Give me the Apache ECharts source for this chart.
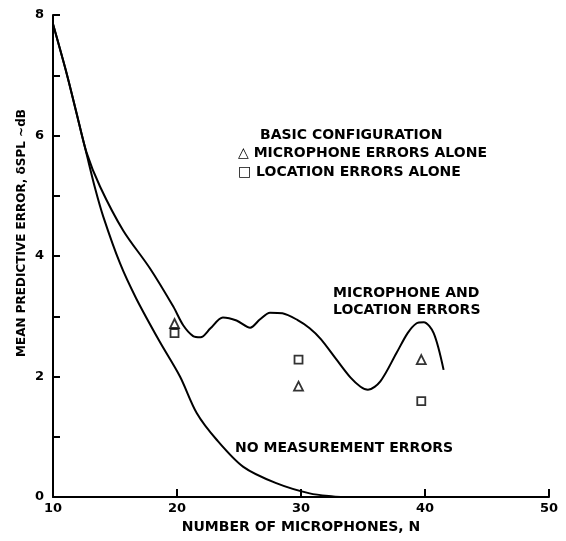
<!DOCTYPE html>
<html>
<head>
<meta charset="utf-8">
<script src="https://cdn.jsdelivr.net/npm/echarts@6/dist/echarts.min.js"></script>
<style>html,body{margin:0;padding:0;background:#fff;}#c{width:566px;height:541px;}</style>
</head>
<body>
<div id="c"></div>
<script>
// Data
var xTicks = [10, 20, 30, 40, 50];
var yTickLabels = ['0', '2', '4', '6', '8'];
var combinedErrors = [
  [10, 7.85], [11.1, 7.03], [11.9, 6.37], [12.7, 5.72], [13.8, 5.15], [15.67, 4.42],
  [17.8, 3.80], [19.7, 3.16], [20.5, 2.85], [21.3, 2.67], [21.9, 2.65], [22.7, 2.80],
  [23.7, 2.98], [24.8, 2.93], [25.9, 2.81], [26.7, 2.95], [27.5, 3.06], [28.5, 3.05],
  [29.7, 2.94], [30.7, 2.80], [31.6, 2.62], [32.9, 2.27], [34.0, 1.98], [34.8, 1.83],
  [35.4, 1.78], [36.4, 1.92], [37.7, 2.39], [38.6, 2.72], [39.3, 2.88], [39.9, 2.90],
  [40.7, 2.72], [41.5, 2.11]
];
var noErrors = [
  [10, 7.85], [11.1, 7.03], [11.9, 6.37], [12.7, 5.70], [13.4, 5.12], [14.06, 4.65],
  [15.4, 3.88], [16.7, 3.30], [18.6, 2.58], [20.24, 2.00], [21.6, 1.39], [23.2, 0.95],
  [25.35, 0.50], [28.0, 0.23], [30.7, 0.06], [32.6, 0.01], [33.5, 0.0]
];
var micErrorsAlone = [[19.8, 2.88], [29.8, 1.84], [39.7, 2.28]];
var locErrorsAlone = [[19.8, 2.72], [29.8, 2.28], [39.7, 1.59]];

var FONT = 'DejaVu Sans';
var chart = echarts.init(document.getElementById('c'));
function txt(x, y, s) {
  return { type: 'text', left: x, top: y - 7, style: { text: s, font: 'bold 14px "' + FONT + '"', fill: '#000' } };
}
chart.setOption({
  animation: false,
  backgroundColor: '#fff',
  grid: { left: 53, right: 17, top: 15, bottom: 44 },
  xAxis: {
    type: 'value', min: 10, max: 50, interval: 10,
    name: 'NUMBER OF MICROPHONES, N', nameLocation: 'middle', nameGap: 15,
    nameTextStyle: { fontFamily: FONT, fontSize: 14, fontWeight: 'bold', color: '#000' },
    axisLine: { lineStyle: { color: '#000', width: 2 } },
    axisTick: { inside: true, length: 8, lineStyle: { color: '#000', width: 2 } },
    axisLabel: { fontFamily: FONT, fontSize: 13, fontWeight: 'bold', color: '#000', margin: 5,
      formatter: function (v) { return xTicks.indexOf(v) >= 0 ? String(v) : ''; } },
    splitLine: { show: false }
  },
  yAxis: {
    type: 'value', min: 0, max: 8, interval: 1,
    axisLine: { lineStyle: { color: '#000', width: 2 } },
    axisTick: { inside: true, length: 7, lineStyle: { color: '#000', width: 2 } },
    axisLabel: { fontFamily: FONT, fontSize: 13, fontWeight: 'bold', color: '#000', margin: 9,
      formatter: function (v) { return yTickLabels.indexOf(String(v)) >= 0 ? String(v) : ''; } },
    splitLine: { show: false }
  },
  series: [
    { type: 'line', data: combinedErrors, smooth: 0.3, showSymbol: false, symbol: 'none',
      lineStyle: { color: '#000', width: 2 } },
    { type: 'line', data: noErrors, smooth: 0.3, showSymbol: false, symbol: 'none',
      lineStyle: { color: '#000', width: 2 } },
    { type: 'scatter', data: micErrorsAlone, symbol: 'triangle', symbolSize: 9,
      itemStyle: { color: '#fff', borderColor: '#000', borderWidth: 1.8 } },
    { type: 'scatter', data: locErrorsAlone, symbol: 'rect', symbolSize: 8,
      itemStyle: { color: '#fff', borderColor: '#000', borderWidth: 1.8 } }
  ],
  graphic: [
    { type: 'text', x: 22, y: 233, rotation: Math.PI / 2,
      style: { text: 'MEAN PREDICTIVE ERROR, δSPL ~dB', font: 'bold 12px "' + FONT + '"', fill: '#000',
        textAlign: 'center', textVerticalAlign: 'middle' } },
    txt(260, 135, 'BASIC CONFIGURATION'),
    txt(238, 153, '△ MICROPHONE ERRORS ALONE'),
    txt(238, 172, '□ LOCATION ERRORS ALONE'),
    txt(333, 293, 'MICROPHONE AND'),
    txt(333, 310, 'LOCATION ERRORS'),
    txt(235, 448, 'NO MEASUREMENT ERRORS')
  ]
});
</script>
</body>
</html>
